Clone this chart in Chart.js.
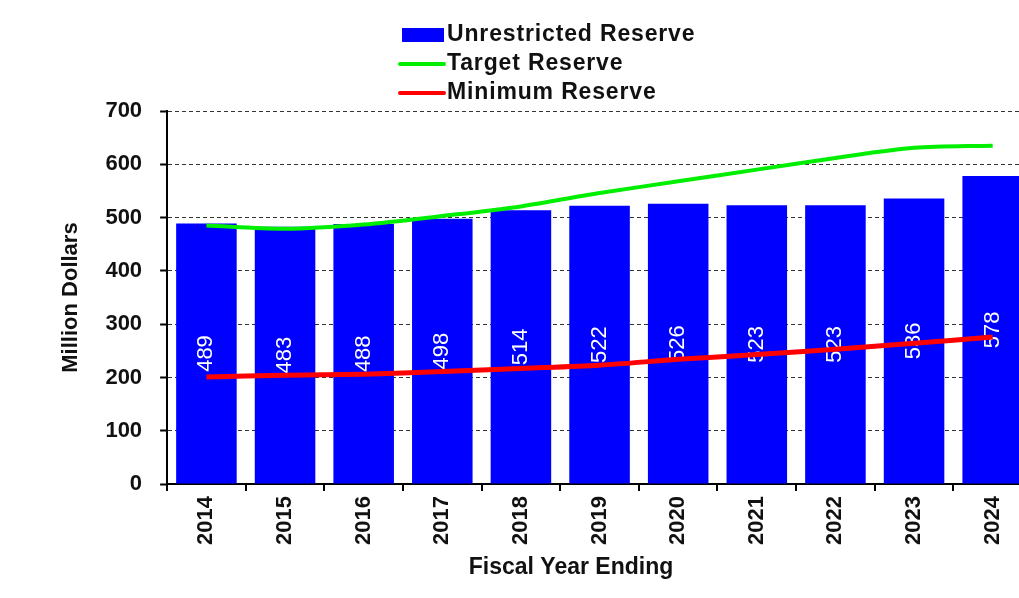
<!DOCTYPE html>
<html>
<head>
<meta charset="utf-8">
<script src="https://cdn.jsdelivr.net/npm/chart.js"></script>
<style>
    html, body { margin: 0; padding: 0; background: #fff; overflow: hidden; }
</style>
</head>
<body>
<canvas id="reserveChart" width="1032" height="598"></canvas>
<script>
const years = ['2014', '2015', '2016', '2017', '2018', '2019', '2020', '2021', '2022', '2023', '2024'];
const unrestrictedReserve = [489, 483, 488, 498, 514, 522, 526, 523, 523, 536, 578];
const targetReserve = [485, 479, 487, 503, 521, 546, 568, 590, 612, 631, 635];
const minimumReserve = [201, 204, 206, 211, 217, 223, 234, 243, 253, 264, 276];
const yTicks = [0, 100, 200, 300, 400, 500, 600, 700];
const xTitle = 'Fiscal Year Ending';

const FONT = '"Liberation Sans", Arial, sans-serif';

// white value labels, drawn right after the bars so the lines cover them
const barLabels = {
    id: 'barLabels',
    afterDatasetDraw(chart, args) {
        const ds = chart.data.datasets[args.index];
        if (ds.type !== 'bar') return;
        const ctx = chart.ctx;
        ctx.save();
        ctx.font = '22px ' + FONT;
        ctx.fillStyle = '#fff';
        ctx.textAlign = 'center';
        ctx.textBaseline = 'middle';
        args.meta.data.forEach((bar, i) => {
            ctx.save();
            ctx.translate(bar.x, (bar.y + bar.base) / 2);
            ctx.rotate(-Math.PI / 2);
            ctx.fillText(String(ds.data[i]), 0, 0);
            ctx.restore();
        });
        ctx.restore();
    }
};

// legend stacked one item per row + x title (sits left of the axis centre in the original)
const stackedLegend = {
    id: 'stackedLegend',
    afterDraw(chart) {
        const ctx = chart.ctx;
        ctx.save();
        ctx.font = 'bold 23px ' + FONT;
        ctx.letterSpacing = '0.85px';
        ctx.textBaseline = 'middle';
        chart.data.datasets.forEach((ds, i) => {
            const y = 35 + i * 29;
            if (ds.type === 'bar') {
                ctx.fillStyle = ds.backgroundColor;
                ctx.fillRect(402, y - 7, 42, 14);
            } else {
                ctx.strokeStyle = ds.borderColor;
                ctx.lineWidth = 4;
                ctx.lineCap = 'round';
                ctx.beginPath();
                ctx.moveTo(400, y);
                ctx.lineTo(444, y);
                ctx.stroke();
            }
            ctx.fillStyle = '#111';
            ctx.fillText(ds.label, 447, y);
        });

        ctx.letterSpacing = '0px';
        ctx.textAlign = 'center';
        ctx.fillText(xTitle, 571, 568);
        ctx.restore();
    }
};

const reserveData = {
    labels: years,
    datasets: [
        {
            type: 'bar',
            label: 'Unrestricted Reserve',
            data: unrestrictedReserve,
            backgroundColor: '#0000ff',
            barPercentage: 0.77,
            categoryPercentage: 1,
            order: 3
        },
        {
            type: 'line',
            label: 'Target Reserve',
            data: targetReserve,
            borderColor: '#00ee00',
            borderWidth: 4,
            pointRadius: 0,
            tension: 0.3,
            order: 2
        },
        {
            type: 'line',
            label: 'Minimum Reserve',
            data: minimumReserve,
            borderColor: '#ff0000',
            borderWidth: 5,
            pointRadius: 0,
            tension: 0.3,
            order: 1
        }
    ]
};

const reserveConfig = {
    type: 'bar',
    data: reserveData,
    options: {
        responsive: false,
        animation: false,
        layout: {
            padding: { top: 111, left: 58, right: 0, bottom: 48 }
        },
        plugins: {
            legend: { display: false },
            tooltip: { enabled: false }
        },
        scales: {
            x: {
                grid: {
                    offset: true,
                    drawOnChartArea: false,
                    drawTicks: true,
                    tickLength: 7,
                    color: '#000',
                    lineWidth: 2
                },
                border: { color: '#000', width: 2 },
                ticks: {
                    color: '#111',
                    font: { family: FONT, size: 22, weight: 'bold' },
                    minRotation: 90,
                    maxRotation: 90,
                    padding: 5
                }
            },
            y: {
                min: yTicks[0],
                max: yTicks[yTicks.length - 1],
                afterBuildTicks: (scale) => {
                    scale.ticks = yTicks.map(v => ({ value: v }));
                },
                grid: {
                    color: '#333',
                    lineWidth: 1,
                    tickColor: '#000',
                    tickWidth: 2,
                    tickLength: 7,
                    tickBorderDash: []
                },
                border: { color: '#000', width: 2, dash: [4, 3] },
                ticks: {
                    color: '#111',
                    font: { family: FONT, size: 22, weight: 'bold' },
                    padding: 18
                },
                title: {
                    display: true,
                    text: 'Million Dollars',
                    color: '#111',
                    font: { family: FONT, size: 22, weight: 'bold' },
                    padding: { top: 0, bottom: 3 }
                }
            }
        }
    },
    plugins: [barLabels, stackedLegend]
};

const reserveCtx = document.getElementById('reserveChart').getContext('2d');
new Chart(reserveCtx, reserveConfig);
</script>
</body>
</html>
